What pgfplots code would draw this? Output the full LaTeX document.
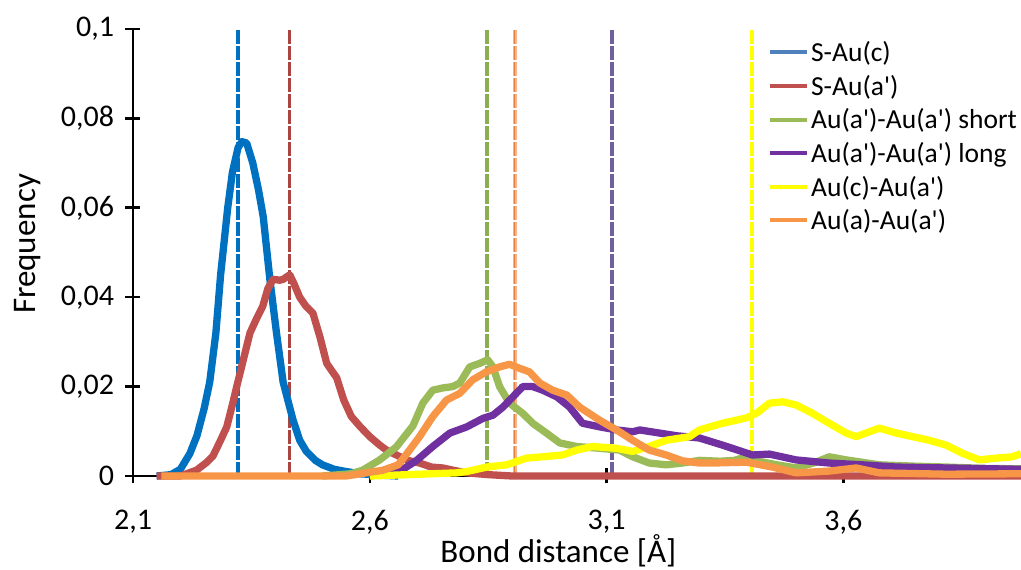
\documentclass[border=0pt]{standalone}
\usepackage{fontspec}
\setmainfont{Carlito}
\usepackage{pgfplots}
\pgfplotsset{compat=1.18}
\definecolor{cblue}{HTML}{0070C0}
\definecolor{cred}{HTML}{C0504D}
\definecolor{cgreen}{HTML}{9BBB59}
\definecolor{cpurple}{HTML}{7030A0}
\definecolor{cyellow}{HTML}{FFFF00}
\definecolor{corange}{HTML}{F79646}
\definecolor{lblue}{HTML}{4F81BD}
\definecolor{vred}{HTML}{A9443F}
\definecolor{vgreen}{HTML}{8BAE50}
\definecolor{vpurple}{HTML}{70609E}
\definecolor{vorange}{HTML}{F5B58A}
\definecolor{vorange2}{HTML}{E8803F}
\newcommand{\q}{\textquotesingle}
\begin{document}
\begin{tikzpicture}
\useasboundingbox (-133pt,-94pt) rectangle (888pt,476pt);
\begin{axis}[
  at={(0,0)}, anchor=south west,
  scale only axis, width=888pt, height=447pt,
  xmin=2.1, xmax=3.975, ymin=0, ymax=0.1,
  clip=false,
  axis x line=bottom, axis y line=left,
  axis line style={-, line width=2.6pt, black},
  tick style={line width=2.6pt, black},
  major tick length=15pt, tick align=center,
  xtick={2.1,2.6,3.1,3.6}, xticklabels={{2,1},{2,6},{3,1},{3,6}},
  ytick={0,0.02,0.04,0.06,0.08,0.1}, yticklabels={0,{0,02},{0,04},{0,06},{0,08},{0,1}},
  ticklabel style={font=\fontsize{30}{34}\selectfont},
  xticklabel style={yshift=-23.5pt},
  yticklabel style={xshift=-8pt},
  xlabel={Bond distance [Å]},
  ylabel={Frequency},
  label style={font=\fontsize{33}{38}\selectfont},
  xlabel style={at={(rel axis cs:0.479,0)}, anchor=base, yshift=-87pt},
  ylabel style={at={(rel axis cs:0,0.519)}, anchor=base, yshift=97pt},
  legend style={draw=none, fill=none, at={(rel axis cs:0.7151,0.972)}, anchor=north west,
    font=\fontsize{27.5}{31}\selectfont, row sep=12pt, inner sep=0pt, outer sep=0pt,
    nodes={inner sep=0pt, outer sep=0pt}},
  legend cell align=left,
  legend image code/.code={\draw[#1, line width=4pt] (0pt,0pt) -- (37pt,0pt); \path (41pt,0pt);},
]
% vertical reference lines
\addplot[forget plot, cblue, line width=3.4pt, dash pattern=on 14pt off 2pt] coordinates {(2.322,0) (2.322,0.1)};
\addplot[forget plot, vred, line width=3.4pt, dash pattern=on 14pt off 2pt] coordinates {(2.431,0) (2.431,0.1)};
\addplot[forget plot, vgreen, line width=3.6pt, dash pattern=on 14pt off 2pt] coordinates {(2.847,0) (2.847,0.1)};
\addplot[forget plot, vorange, line width=4pt, dash pattern=on 14pt off 2pt] coordinates {(2.906,0) (2.906,0.1)};
\addplot[forget plot, vorange2, line width=1.3pt, dash pattern=on 14pt off 2pt] coordinates {(2.906,0) (2.906,0.1)};
\addplot[forget plot, vpurple, line width=3.6pt, dash pattern=on 14pt off 2pt] coordinates {(3.111,0) (3.111,0.1)};
\addplot[forget plot, cyellow, line width=4pt, dash pattern=on 14pt off 2pt] coordinates {(3.408,0) (3.408,0.1)};
% curves
\addplot[forget plot, cblue, line width=7.3pt, line join=round] coordinates {
(2.15,0) (2.18,0.0003) (2.20,0.0015) (2.22,0.005) (2.235,0.009) (2.25,0.015) (2.262,0.021) (2.275,0.032) (2.285,0.045) (2.30,0.060) (2.31,0.068) (2.322,0.0735) (2.33,0.0748) (2.34,0.0745) (2.353,0.070) (2.365,0.064) (2.375,0.058) (2.389,0.044) (2.403,0.032) (2.417,0.021) (2.438,0.0125) (2.452,0.008) (2.466,0.0055) (2.485,0.0035) (2.50,0.0025) (2.525,0.0015) (2.55,0.001) (2.58,0.0005) (2.62,0.0002) (2.66,0)};
\addplot[forget plot, cred, line width=7.3pt, line join=round] coordinates {
(2.15,0) (2.20,0) (2.234,0.0013) (2.255,0.003) (2.269,0.0045) (2.285,0.008) (2.298,0.011) (2.31,0.016) (2.319,0.020) (2.333,0.026) (2.347,0.032) (2.36,0.035) (2.374,0.038) (2.385,0.042) (2.396,0.044) (2.41,0.0438) (2.417,0.044) (2.431,0.045) (2.44,0.043) (2.452,0.040) (2.465,0.038) (2.48,0.0364) (2.495,0.031) (2.509,0.0252) (2.52,0.0235) (2.53,0.022) (2.545,0.017) (2.561,0.0133) (2.58,0.011) (2.6,0.0088) (2.62,0.007) (2.635,0.0058) (2.66,0.0045) (2.68,0.0035) (2.705,0.0029) (2.73,0.002) (2.754,0.0018) (2.78,0.0012) (2.805,0.0007) (2.85,0.0003) (2.9,0) (3.975,0)};
\addplot[forget plot, cgreen, line width=7.3pt, line join=round] coordinates {
(2.5,0) (2.56,0.0005) (2.585,0.0013) (2.621,0.0036) (2.656,0.0065) (2.691,0.0112) (2.712,0.0163) (2.733,0.0192) (2.754,0.0197) (2.775,0.020) (2.79,0.0208) (2.811,0.0244) (2.832,0.0252) (2.849,0.026) (2.86,0.0244) (2.874,0.020) (2.895,0.0163) (2.923,0.014) (2.944,0.0118) (2.973,0.0096) (3.001,0.0074) (3.037,0.0066) (3.085,0.0062) (3.127,0.0058) (3.155,0.0043) (3.19,0.0029) (3.226,0.0025) (3.26,0.0029) (3.296,0.0035) (3.34,0.0033) (3.37,0.0035) (3.395,0.0043) (3.42,0.0033) (3.46,0.0025) (3.50,0.0018) (3.54,0.003) (3.57,0.0043) (3.606,0.0036) (3.676,0.0025) (3.75,0.0022) (3.817,0.002) (3.9,0.0017) (3.975,0.0016)};
\addplot[forget plot, cpurple, line width=7.3pt, line join=round] coordinates {
(2.6,0) (2.642,0.0007) (2.67,0.0015) (2.699,0.0035) (2.733,0.0066) (2.769,0.0096) (2.805,0.011) (2.839,0.0129) (2.86,0.0136) (2.881,0.0154) (2.902,0.0177) (2.923,0.020) (2.944,0.020) (2.965,0.0192) (2.995,0.0177) (3.022,0.0154) (3.049,0.0118) (3.085,0.011) (3.121,0.0103) (3.155,0.0099) (3.17,0.0103) (3.212,0.0096) (3.248,0.0090) (3.296,0.0085) (3.345,0.0069) (3.408,0.0047) (3.444,0.0049) (3.50,0.0036) (3.57,0.0029) (3.64,0.0025) (3.712,0.002) (3.817,0.0018) (3.975,0.0015)};
\addplot[forget plot, cyellow, line width=7.3pt, line join=round] coordinates {
(2.6,0) (2.733,0.0005) (2.783,0.0007) (2.805,0.001) (2.847,0.002) (2.889,0.0025) (2.931,0.004) (2.965,0.0043) (3.007,0.0047) (3.037,0.0058) (3.07,0.0066) (3.121,0.0062) (3.155,0.0055) (3.19,0.0066) (3.226,0.008) (3.275,0.0088) (3.296,0.0103) (3.345,0.0118) (3.395,0.013) (3.416,0.014) (3.444,0.0163) (3.472,0.0166) (3.50,0.0159) (3.535,0.014) (3.57,0.0118) (3.606,0.0096) (3.627,0.0088) (3.655,0.0099) (3.676,0.0107) (3.712,0.0096) (3.746,0.0088) (3.781,0.008) (3.817,0.0069) (3.851,0.0051) (3.887,0.0036) (3.923,0.004) (3.957,0.0043) (3.975,0.005)};
\addplot[forget plot, corange, line width=7.3pt, line join=round] coordinates {
(2.16,0) (2.55,0) (2.58,0.0005) (2.628,0.0013) (2.66,0.0025) (2.684,0.0058) (2.705,0.0088) (2.733,0.0133) (2.762,0.017) (2.79,0.0185) (2.817,0.0215) (2.846,0.0233) (2.874,0.0244) (2.895,0.025) (2.916,0.0241) (2.937,0.0233) (2.959,0.0208) (2.986,0.0192) (3.016,0.0181) (3.043,0.0154) (3.085,0.0125) (3.121,0.0103) (3.155,0.008) (3.19,0.0058) (3.226,0.0047) (3.26,0.0034) (3.296,0.0029) (3.324,0.0029) (3.395,0.0031) (3.45,0.002) (3.50,0.0007) (3.57,0.0011) (3.627,0.0018) (3.676,0.0007) (3.817,0.0004) (3.975,0.0005)};
% legend
\addlegendimage{lblue}\addlegendentry{S-Au(c)}
\addlegendimage{cred}\addlegendentry{S-Au(a\q)}
\addlegendimage{cgreen}\addlegendentry{Au(a\q)-Au(a\q) short}
\addlegendimage{cpurple}\addlegendentry{Au(a\q)-Au(a\q) long}
\addlegendimage{cyellow}\addlegendentry{Au(c)-Au(a\q)}
\addlegendimage{corange}\addlegendentry{Au(a)-Au(a\q)}
\end{axis}
\end{tikzpicture}
\end{document}
